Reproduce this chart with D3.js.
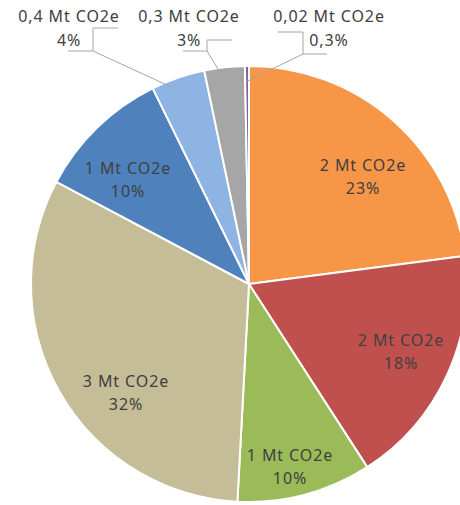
<!DOCTYPE html>
<html>
<head>
<meta charset="utf-8">
<script src="https://cdn.jsdelivr.net/npm/d3@7"></script>
<style>
  html, body { margin: 0; padding: 0; background: #fff; }
  svg { display: block; }
  text { font-family: "Noto Sans", sans-serif; font-size: 16px; letter-spacing: 0.9px; fill: #404040; }
</style>
</head>
<body>
<script>
// slices, clockwise from 12 o'clock
var names   = ["orange", "red", "green", "tan", "blue", "lightblue", "gray", "purple"]
var amounts = ["2 Mt CO2e", "2 Mt CO2e", "1 Mt CO2e", "3 Mt CO2e", "1 Mt CO2e", "0,4 Mt CO2e", "0,3 Mt CO2e", "0,02 Mt CO2e"]
var shares  = [23, 18, 10, 32, 10, 4, 3, 0.3]
var pctLabels = ["23%", "18%", "10%", "32%", "10%", "4%", "3%", "0,3%"]

var colors = ["#F79646", "#C0504D", "#9BBB59", "#C4BD97", "#4F81BD", "#8EB4E3", "#A6A6A6", "#8064A2"]

var width = 460, height = 505
var cx = 249, cy = 284, radius = 218
var lineGap = 23

// label placement (Excel "best fit" look): first baseline, relative to pie centre
var insideLabel = [[114, -113], [152, 62], [41, 177], [-123, 103], [-121, -110]]
// outside labels: text centre / first baseline, leader elbow, box edges
var outside = {
  5: {x: 69, y: 22, ex: 93, ey: 51, top: 28, left: 68, right: 118},
  6: {x: 189, y: 22, ex: 207, ey: 51, top: 40, left: 183, right: 232},
  7: {x: 329, y: 22, ex: 303, ey: 54, top: 32, left: 278, right: 327}
}

var data = names.map(function(n, i) {
  return {name: n, amount: amounts[i], share: shares[i], pct: pctLabels[i], color: colors[i], i: i}
})

var svg = d3.select("body").append("svg")
    .attr("width", width)
    .attr("height", height)

var g = svg.append("g")
    .attr("transform", "translate(" + cx + "," + cy + ")")

var pie = d3.pie()
    .value(function(d) { return d.share })
    .sort(null)

var arc = d3.arc()
    .innerRadius(0)
    .outerRadius(radius)

var arcs = pie(data)

g.selectAll("path.slice")
  .data(arcs)
  .enter()
  .append("path")
    .attr("class", "slice")
    .attr("d", arc)
    .attr("fill", function(d) { return d.data.color })
    .attr("stroke", "#fff")
    .attr("stroke-width", 2)
    .attr("stroke-linejoin", "round")

// inside labels
arcs.slice(0, 5).forEach(function(d, i) {
  var p = insideLabel[i]
  var t = g.append("text")
      .attr("text-anchor", "middle")
      .attr("transform", "translate(" + p[0] + "," + p[1] + ")")
  t.append("tspan").attr("x", 0).attr("y", 0).text(d.data.amount)
  t.append("tspan").attr("x", 0).attr("y", lineGap).text(d.data.pct)
})

// outside labels with leader lines
arcs.slice(5).forEach(function(d) {
  var o = outside[d.data.i]
  var a = (d.startAngle + d.endAngle) / 2
  var r = radius * 0.93
  var sx = cx + Math.sin(a) * r, sy = cy - Math.cos(a) * r

  var line = d3.line()
  var lines = [
    [[sx, sy], [o.ex, o.ey]],
    [[o.ex, o.ey], [o.ex, o.top]],
    o.ex > o.x ? [[o.left, o.ey], [o.ex, o.ey]] : [[o.ex, o.ey], [o.right, o.ey]],
    o.ex > o.x ? [[o.ex, o.top], [o.right, o.top]] : [[o.left, o.top], [o.ex, o.top]]
  ]
  lines.forEach(function(p) {
    svg.append("path")
      .attr("d", line(p))
      .attr("fill", "none")
      .attr("stroke", "#A6A6A6")
      .attr("stroke-width", 1)
  })

  var t = svg.append("text")
      .attr("text-anchor", "middle")
      .attr("transform", "translate(" + o.x + "," + o.y + ")")
  t.append("tspan").attr("x", 0).attr("y", 0).text(d.data.amount)
  t.append("tspan").attr("x", 0).attr("y", 24).text(d.data.pct)
})
</script>
</body>
</html>
